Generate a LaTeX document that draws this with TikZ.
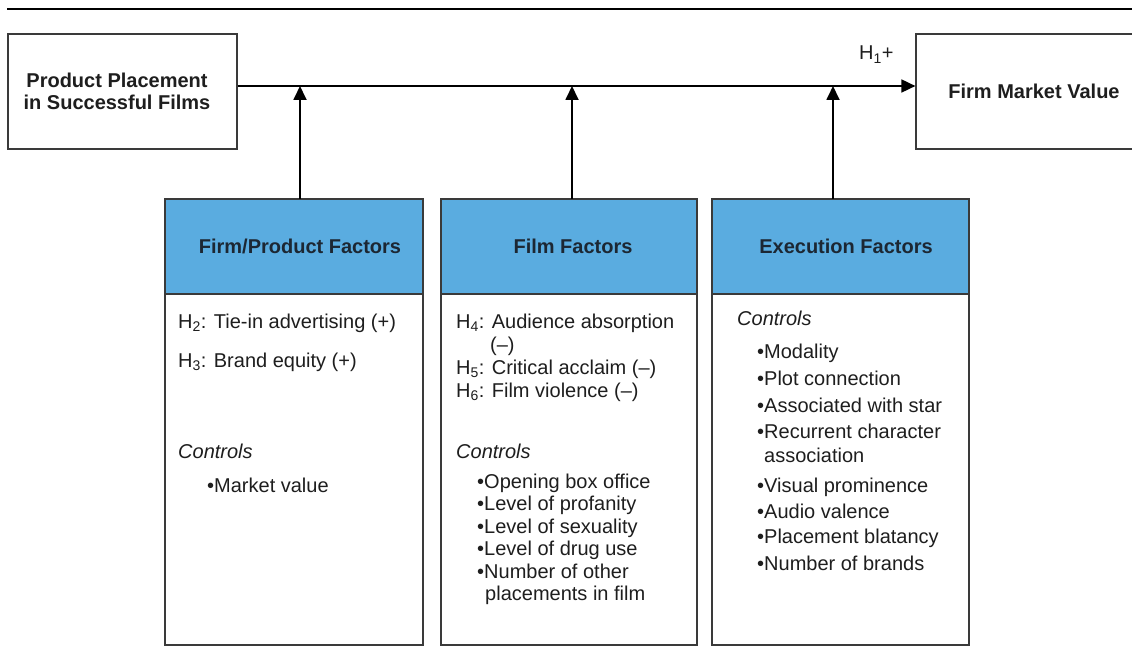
\documentclass[tikz,border=0pt]{standalone}
\usepackage{fontspec}
\setmainfont{Liberation Sans}
\usetikzlibrary{arrows.meta}
\definecolor{headblue}{HTML}{5AACE0}
\definecolor{inkgray}{HTML}{1E1E1E}
\definecolor{headink}{HTML}{1C2733}
\definecolor{framegray}{HTML}{3A3A3A}
\newcommand{\hyp}[1]{H\textsubscript{#1}}
\begin{document}
\begin{tikzpicture}[x=1pt,y=-1pt,
  plainbox/.style={draw=framegray,line width=1.2pt,fill=white,inner sep=0pt},
  headbox/.style={draw=framegray,line width=1.2pt,fill=headblue,inner sep=0pt,
    font=\fontsize{20}{24}\selectfont\bfseries,text=headink},
  bodybox/.style={draw=framegray,line width=1.2pt,fill=white,inner sep=0pt},
  title/.style={font=\fontsize{20}{22.5}\selectfont\bfseries,text=inkgray,align=center,inner sep=0pt},
  txt/.style={font=\fontsize{20}{22.5}\selectfont,text=inkgray,anchor=base west,inner sep=0pt},
  itxt/.style={txt,font=\fontsize{20}{22.5}\selectfont\itshape},
  link/.style={line width=1.8pt,-{Triangle[length=14pt,width=13pt]}}]
\useasboundingbox (0,0) rectangle (1132,655);

% rule across the top
\coordinate (ruleL) at (7,9);
\coordinate (ruleR) at (1132,9);
\draw[line width=2pt] (ruleL) -- (ruleR);

% outer boxes
\node[plainbox,minimum width=229pt,minimum height=115pt] (ppf) at (122.5,91.5) {};
\node[title] (ppftext) at (117,91.5) {Product Placement\\in Successful Films};
\begin{scope}
\clip (0,0) rectangle (1132,655);
\node[plainbox,minimum width=230pt,minimum height=115pt] (fmv) at (1031,91.5) {};
\end{scope}
\node[title] (fmvtext) at (1034,91.5) {Firm Market Value};
\node[txt] (h1) at (859,60) {\hyp{1}+};

% factor boxes: body and header
\node[bodybox,minimum width=258pt,minimum height=446pt] (fpbody) at (294,422) {};
\node[headbox,minimum width=258pt,minimum height=95pt] (fphead) at (294,246.5) {\hspace*{12pt}Firm/Product Factors};
\node[bodybox,minimum width=256pt,minimum height=446pt] (ffbody) at (569,422) {};
\node[headbox,minimum width=256pt,minimum height=95pt] (ffhead) at (569,246.5) {\hspace*{8pt}Film Factors};
\node[bodybox,minimum width=257pt,minimum height=446pt] (efbody) at (840.5,422) {};
\node[headbox,minimum width=257pt,minimum height=95pt] (efhead) at (840.5,246.5) {\hspace*{11pt}Execution Factors};

% main path and moderating arrows
\coordinate (mainy) at (0,86);
\draw[link] (ppf.east |- mainy) -- (fmv.west |- mainy);
\coordinate (a1) at (300,199);
\coordinate (a2) at (572,199);
\coordinate (a3) at (833,199);
\draw[link] (a1) -- (a1 |- mainy);
\draw[link] (a2) -- (a2 |- mainy);
\draw[link] (a3) -- (a3 |- mainy);

% firm/product factors
\node[txt] (fp1) at (178,328) {\hyp{2}: Tie-in advertising (+)};
\node[txt] (fp2) at (178,367) {\hyp{3}: Brand equity (+)};
\node[itxt] (fp3) at (178,458) {Controls};
\node[txt] (fp4) at (207,492) {•Market value};

% film factors
\node[txt] (ff1) at (456,328) {\hyp{4}: Audience absorption};
\node[txt] (ff1b) at (490,351) {(–)};
\node[txt] (ff2) at (456,374) {\hyp{5}: Critical acclaim (–)};
\node[txt] (ff3) at (456,397) {\hyp{6}: Film violence (–)};
\node[itxt] (ff4) at (456,458) {Controls};
\node[txt] (ff5) at (477,488) {•Opening box office};
\node[txt] (ff6) at (477,510.5) {•Level of profanity};
\node[txt] (ff7) at (477,533) {•Level of sexuality};
\node[txt] (ff8) at (477,555.5) {•Level of drug use};
\node[txt] (ff9) at (477,578) {•Number of other};
\node[txt] (ff9b) at (485,600.5) {placements in film};

% execution factors
\node[itxt] (ef0) at (737,325) {Controls};
\node[txt] (ef1) at (757,358) {•Modality};
\node[txt] (ef2) at (757,385) {•Plot connection};
\node[txt] (ef3) at (757,412) {•Associated with star};
\node[txt] (ef4) at (757,438) {•Recurrent character};
\node[txt] (ef4b) at (764,462) {association};
\node[txt] (ef5) at (757,492) {•Visual prominence};
\node[txt] (ef6) at (757,518) {•Audio valence};
\node[txt] (ef7) at (757,543) {•Placement blatancy};
\node[txt] (ef8) at (757,570) {•Number of brands};
\end{tikzpicture}
\end{document}
